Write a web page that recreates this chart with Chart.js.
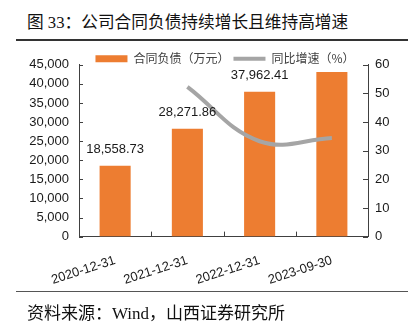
<!DOCTYPE html>
<html>
<head>
<meta charset="utf-8">
<script src="https://cdn.jsdelivr.net/npm/chart.js@4.4.0/dist/chart.umd.min.js"></script>
<style>
  body { margin: 0; width: 418px; height: 328px; background: #fff; position: relative; overflow: hidden; }
  #title { position: absolute; left: 27px; top: 9px; font-size: 16.7px; color: #111;
    font-family: "Liberation Serif", "Noto Sans CJK SC", sans-serif; white-space: nowrap; }
  .rule { position: absolute; left: 16px; width: 392px; background: #333; }
  #chartBox { position: absolute; left: 28px; top: 47px; width: 394px; height: 257px; }
  #source { position: absolute; left: 27px; top: 299px; font-size: 17px; color: #111;
    font-family: "Liberation Serif", "Noto Sans CJK SC", sans-serif; white-space: nowrap; }
</style>
</head>
<body>
<div id="title">图 33：公司合同负债持续增长且维持高增速</div>
<div class="rule" style="top:39px;height:2px"></div>
<div id="chartBox"><canvas id="myChart"></canvas></div>
<div class="rule" style="top:291px;height:1px;background:#555"></div>
<div id="source">资料来源：Wind，山西证券研究所</div>

<script>
const categories = ["2020-12-31", "2021-12-31", "2022-12-31", "2023-09-30"];
const contractLiabilities = [18558.73, 28271.86, 37962.41, 43100];
const growthRate = [null, 52.3, 33.3, 34.4];
const labeledBars = 3; // only the year-end bars carry a value label
const leftTicks = { min: 0, max: 45000, step: 5000 };
const rightTicks = { min: 0, max: 60, step: 10 };

const ctx = document.querySelector("#myChart");
const axisColor = "#404040";
const tickFont = { family: "'Liberation Sans', Arial, sans-serif", size: 13 };

// value labels above the bars
const barValueLabels = {
  id: "barValueLabels",
  afterDatasetsDraw(chart) {
    const meta = chart.getDatasetMeta(0);
    const c = chart.ctx;
    c.save();
    c.font = "13px 'Liberation Sans', Arial, sans-serif";
    c.fillStyle = "#1a1a1a";
    c.textAlign = "center";
    c.textBaseline = "middle";
    meta.data.forEach((bar, i) => {
      if (i >= labeledBars) return;
      const text = contractLiabilities[i].toLocaleString("en-US", {
        minimumFractionDigits: 2,
        maximumFractionDigits: 2,
      });
      c.fillText(text, bar.x, bar.y - 16);
    });
    c.restore();
  },
};

// short tick marks pointing into the plot
const innerTicks = {
  id: "innerTicks",
  afterDraw(chart) {
    const c = chart.ctx;
    const area = chart.chartArea;
    c.save();
    c.strokeStyle = axisColor;
    c.lineWidth = 1;
    c.beginPath();
    const y = chart.scales.y;
    y.ticks.forEach((t) => {
      const py = Math.round(y.getPixelForValue(t.value)) + 0.5;
      c.moveTo(area.left, py);
      c.lineTo(area.left + 4, py);
    });
    const y1 = chart.scales.y1;
    y1.ticks.forEach((t) => {
      const py = Math.round(y1.getPixelForValue(t.value)) + 0.5;
      c.moveTo(area.right, py);
      c.lineTo(area.right - 5, py);
    });
    const x = chart.scales.x;
    const half = (x.getPixelForValue(1) - x.getPixelForValue(0)) / 2;
    for (let i = 1; i < categories.length; i++) {
      const px = Math.round(x.getPixelForValue(i) - half) + 0.5;
      c.moveTo(px, area.bottom);
      c.lineTo(px, area.bottom - 5);
    }
    c.stroke();
    c.restore();
  },
};

// the legend sits close above the plot, so keep its reserved height small
const legendHeight = {
  id: "legendHeight",
  afterInit(chart) {
    const legend = chart.legend;
    const fit = legend.fit;
    legend.fit = function () {
      fit.call(this);
      this.height = 16;
    };
  },
};

new Chart(ctx, {
  type: "bar",
  data: {
    labels: categories,
    datasets: [
      {
        type: "bar",
        label: "合同负债（万元）",
        data: contractLiabilities,
        backgroundColor: "#ED7D31",
        borderWidth: 0,
        categoryPercentage: 1,
        barPercentage: 0.43,
        yAxisID: "y",
        pointStyle: "rect",
        order: 2,
      },
      {
        type: "line",
        label: "同比增速（%）",
        data: growthRate,
        borderColor: "#A5A5A5",
        backgroundColor: "#A5A5A5",
        borderWidth: 4,
        tension: 0.4,
        pointRadius: 0,
        pointStyle: "line",
        yAxisID: "y1",
        order: 1,
      },
    ],
  },
  options: {
    responsive: true,
    maintainAspectRatio: false,
    animation: false,
    layout: { padding: 0 },
    plugins: {
      tooltip: { enabled: false },
      legend: {
        position: "top",
        labels: {
          usePointStyle: true,
          pointStyleWidth: 32,
          boxHeight: 7,
          padding: 4,
          color: "#404040",
          font: { family: "'Noto Sans CJK SC', sans-serif", size: 12 },
          sort: (a, b) => a.datasetIndex - b.datasetIndex,
        },
      },
    },
    scales: {
      x: {
        offset: true,
        grid: { display: false, drawTicks: false },
        border: { color: axisColor },
        ticks: {
          color: "#1a1a1a",
          font: tickFont,
          minRotation: 18,
          maxRotation: 18,
          padding: 16,
        },
      },
      y: {
        position: "left",
        min: leftTicks.min,
        max: leftTicks.max,
        grid: { display: false, drawTicks: false },
        border: { color: axisColor },
        ticks: { stepSize: leftTicks.step, autoSkip: false, color: "#1a1a1a", font: tickFont, padding: 10 },
        afterFit: (scale) => { scale.width = 51; },
      },
      y1: {
        position: "right",
        min: rightTicks.min,
        max: rightTicks.max,
        grid: { display: false, drawTicks: false },
        border: { color: axisColor },
        ticks: { stepSize: rightTicks.step, autoSkip: false, color: "#1a1a1a", font: tickFont, padding: 7 },
        afterFit: (scale) => { scale.width = 54; },
      },
    },
  },
  plugins: [barValueLabels, innerTicks, legendHeight],
});
</script>
</body>
</html>
